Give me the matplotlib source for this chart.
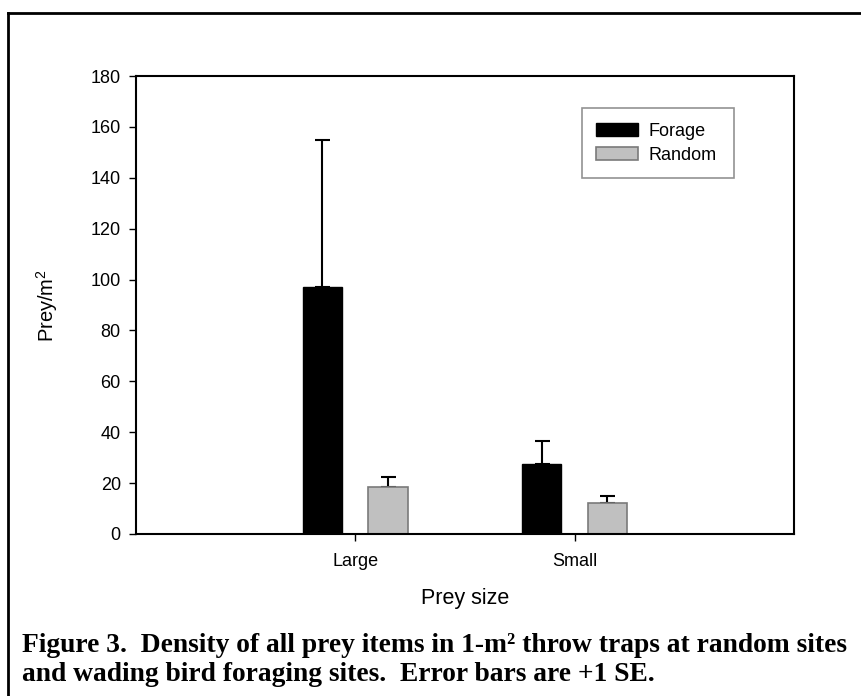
import numpy as np
import matplotlib.pyplot as plt
from matplotlib.lines import Line2D

plt.rcParams['font.family'] = ['Liberation Sans', 'DejaVu Sans']
plt.rcParams['mathtext.fontset'] = 'custom'
plt.rcParams['mathtext.rm'] = 'Liberation Sans'
plt.rcParams['mathtext.it'] = 'Liberation Sans'

sizes = ['Large', 'Small']
forage = [97, 27.5]
forage_se = [58, 9]
random_sites = [18.5, 12]
random_se = [4, 3]
yticks = [0, 20, 40, 60, 80, 100, 120, 140, 160, 180]

fig = plt.figure(figsize=(8.61, 6.96), dpi=100)
ax = fig.add_axes([0.158, 0.2328, 0.764, 0.658])

x = np.arange(1, len(sizes) + 1)
w = 0.18
off = 0.15
ax.bar(x - off, forage, w, color='black', edgecolor='black', linewidth=1, label='Forage', zorder=2)
ax.bar(x + off, random_sites, w, color='#c0c0c0', edgecolor='#7a7a7a', linewidth=1.2, label='Random', zorder=2)
ax.errorbar(x - off, forage, yerr=[np.zeros(len(forage)), forage_se], fmt='none',
            ecolor='black', elinewidth=1.5, capsize=5.4, capthick=1.5, zorder=1)
ax.errorbar(x + off, random_sites, yerr=[np.zeros(len(random_sites)), random_se], fmt='none',
            ecolor='black', elinewidth=1.5, capsize=5.4, capthick=1.5, zorder=1)

ax.set_xlim(0, 3)
ax.set_ylim(0, 180)
ax.set_xticks(x)
ax.set_xticklabels(sizes)
ax.set_yticks(yticks)
ax.tick_params(direction='out', length=5, width=1, labelsize=13)
ax.tick_params(axis='x', pad=9)
ax.tick_params(axis='y', pad=6)
for s in ax.spines.values():
    s.set_linewidth(1.5)

ax.set_xlabel('Prey size', fontsize=15.5, labelpad=13)
ax.set_ylabel('Prey/m$^2$', fontsize=14.5, labelpad=22)

leg = ax.legend(loc='upper left', bbox_to_anchor=(0.678, 0.773, 0.231, 0.157), mode='expand',
                fontsize=13, frameon=True, fancybox=False, handlelength=2.3, handleheight=0.75,
                handletextpad=0.6, labelspacing=0.4, borderpad=0.8, borderaxespad=0)
leg.get_frame().set_edgecolor('#777777')
leg.get_frame().set_linewidth(1.2)

# caption box edges
fig.add_artist(Line2D([8 / 861, 1.0], [1 - 13 / 696, 1 - 13 / 696], transform=fig.transFigure,
                      color='black', linewidth=2))
fig.add_artist(Line2D([8 / 861, 8 / 861], [0, 1 - 13 / 696], transform=fig.transFigure,
                      color='black', linewidth=2))

caption = ('Figure 3.  Density of all prey items in 1-m\u00b2 throw traps at random sites\n'
           'and wading bird foraging sites.  Error bars are +1 SE.')
fig.text(22 / 861, 1 - 633 / 696, caption, family='Liberation Serif', weight='bold',
         fontsize=19.8, va='top', ha='left', linespacing=1.2)

fig.savefig('out.png', dpi=100)
